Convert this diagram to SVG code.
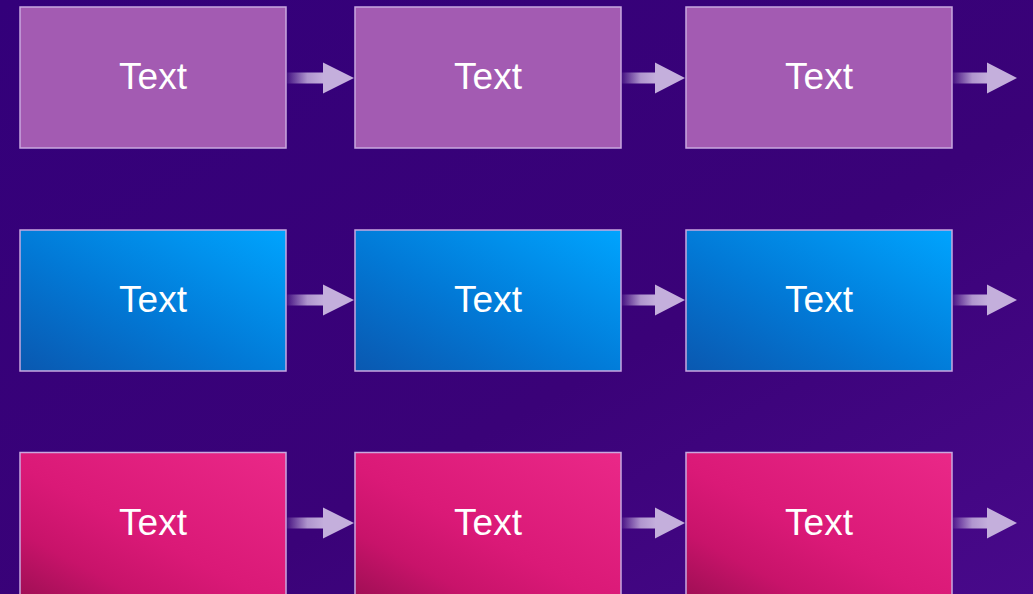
<svg xmlns="http://www.w3.org/2000/svg" width="1033" height="594" viewBox="0 0 1033 594">
<defs>
<linearGradient id="bg" x1="0" y1="0" x2="1" y2="1">
<stop offset="0" stop-color="#33007a"/>
<stop offset="0.6" stop-color="#3a0278"/>
<stop offset="1" stop-color="#48098a"/>
</linearGradient>
<linearGradient id="blue" x1="0" y1="1" x2="1" y2="0">
<stop offset="0" stop-color="#0a58b0"/>
<stop offset="0.45" stop-color="#0279d6"/>
<stop offset="1" stop-color="#00a4fe"/>
</linearGradient>
<linearGradient id="pink" x1="0" y1="1" x2="1" y2="0">
<stop offset="0" stop-color="#a00f55"/>
<stop offset="0.22" stop-color="#c8136a"/>
<stop offset="0.45" stop-color="#da1977"/>
<stop offset="1" stop-color="#ea2888"/>
</linearGradient>
<linearGradient id="shaft" x1="0" y1="0" x2="1" y2="0">
<stop offset="0" stop-color="#c4afdc" stop-opacity="0.1"/>
<stop offset="0.55" stop-color="#c4afdc" stop-opacity="0.85"/>
<stop offset="1" stop-color="#c4afdc"/>
</linearGradient>
</defs>
<style>
.box{stroke:#c9a8df;stroke-width:1.5}
.purple{fill:#a35bb2}
.blue{fill:url(#blue)}
.pink{fill:url(#pink)}
.sh{fill:url(#shaft)}
.hd{fill:#c4afdc}
.lbl{font-family:"Liberation Sans",Arial,sans-serif;font-size:37px;fill:#ffffff;text-anchor:middle}
</style>
<rect width="1033" height="594" fill="url(#bg)"/>
<g id="connectors">
<g transform="translate(0,78)">
<rect class="sh" x="287" y="-5.5" width="37" height="11"/><polygon class="hd" points="323,-15.5 354,0 323,15.5"/>
<rect class="sh" x="622" y="-5.5" width="34" height="11"/><polygon class="hd" points="655,-15.5 685,0 655,15.5"/>
<rect class="sh" x="953" y="-5.5" width="35" height="11"/><polygon class="hd" points="987,-15.5 1017,0 987,15.5"/>
</g>
<g transform="translate(0,300)">
<rect class="sh" x="287" y="-5.5" width="37" height="11"/><polygon class="hd" points="323,-15.5 354,0 323,15.5"/>
<rect class="sh" x="622" y="-5.5" width="34" height="11"/><polygon class="hd" points="655,-15.5 685,0 655,15.5"/>
<rect class="sh" x="953" y="-5.5" width="35" height="11"/><polygon class="hd" points="987,-15.5 1017,0 987,15.5"/>
</g>
<g transform="translate(0,523)">
<rect class="sh" x="287" y="-5.5" width="37" height="11"/><polygon class="hd" points="323,-15.5 354,0 323,15.5"/>
<rect class="sh" x="622" y="-5.5" width="34" height="11"/><polygon class="hd" points="655,-15.5 685,0 655,15.5"/>
<rect class="sh" x="953" y="-5.5" width="35" height="11"/><polygon class="hd" points="987,-15.5 1017,0 987,15.5"/>
</g>
</g>
<g id="n1"><rect class="box purple" x="20" y="7" width="266" height="141"/><text class="lbl" x="153" y="89">Text</text></g>
<g id="n2"><rect class="box purple" x="355" y="7" width="266" height="141"/><text class="lbl" x="488" y="89">Text</text></g>
<g id="n3"><rect class="box purple" x="686" y="7" width="266" height="141"/><text class="lbl" x="819" y="89">Text</text></g>
<g id="n4"><rect class="box blue" x="20" y="230" width="266" height="141"/><text class="lbl" x="153" y="312">Text</text></g>
<g id="n5"><rect class="box blue" x="355" y="230" width="266" height="141"/><text class="lbl" x="488" y="312">Text</text></g>
<g id="n6"><rect class="box blue" x="686" y="230" width="266" height="141"/><text class="lbl" x="819" y="312">Text</text></g>
<g id="n7"><rect class="box pink" x="20" y="452.5" width="266" height="143"/><text class="lbl" x="153" y="535">Text</text></g>
<g id="n8"><rect class="box pink" x="355" y="452.5" width="266" height="143"/><text class="lbl" x="488" y="535">Text</text></g>
<g id="n9"><rect class="box pink" x="686" y="452.5" width="266" height="143"/><text class="lbl" x="819" y="535">Text</text></g>
</svg>
